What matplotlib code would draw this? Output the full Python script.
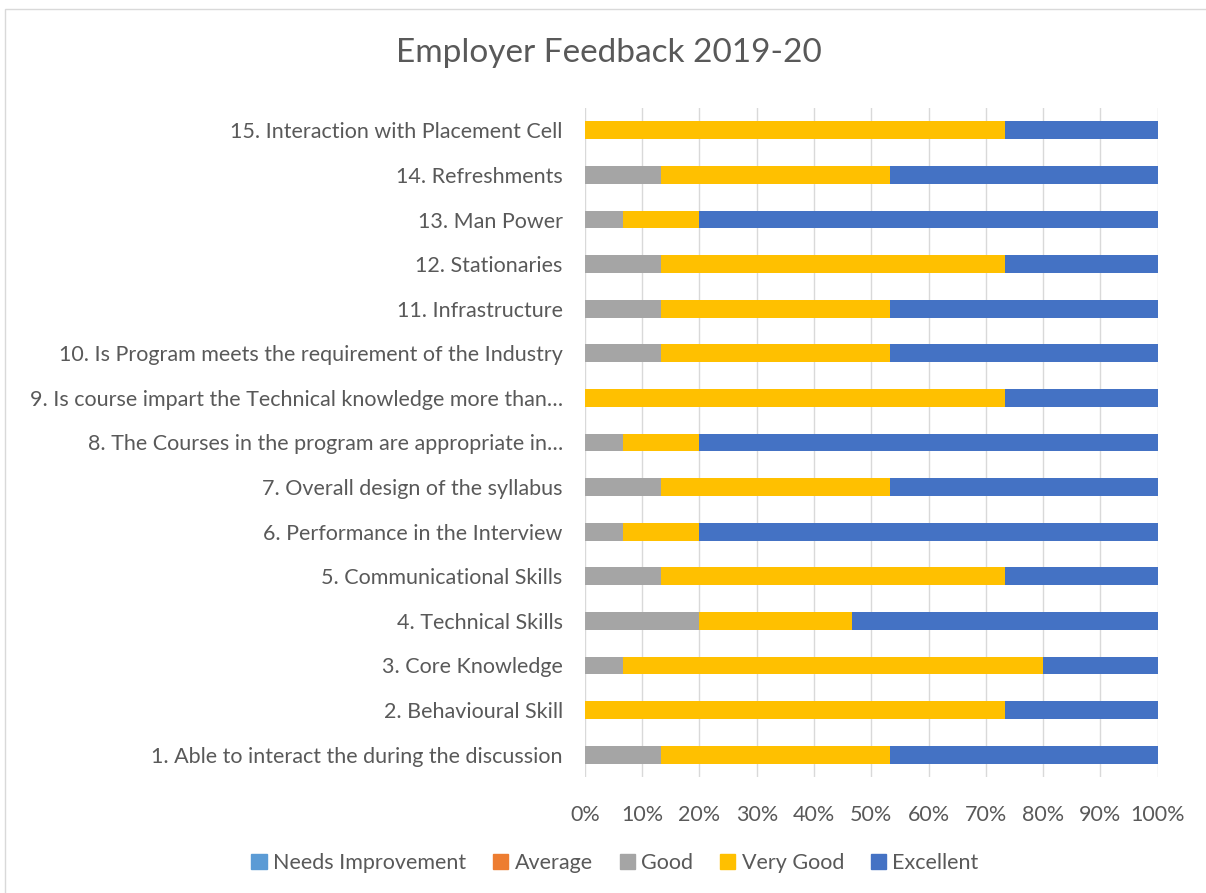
import matplotlib
matplotlib.use("Agg")
import matplotlib.pyplot as plt
from matplotlib.patches import Patch, Rectangle
import numpy as np

plt.rcParams['font.family'] = ['Lato', 'DejaVu Sans']

questions = [
    "1. Able to interact the during the discussion",
    "2. Behavioural Skill",
    "3. Core Knowledge",
    "4. Technical Skills",
    "5. Communicational Skills",
    "6. Performance in the Interview",
    "7. Overall design of the syllabus",
    "8. The Courses in the program are appropriate in\u2026",
    "9. Is course impart the Technical knowledge more than\u2026",
    "10. Is Program meets the requirement of the Industry",
    "11. Infrastructure",
    "12. Stationaries",
    "13. Man Power",
    "14. Refreshments",
    "15. Interaction with Placement Cell",
]

# responses out of 15 employers
needs_improvement = [0, 0, 0, 0, 0, 0, 0, 0, 0, 0, 0, 0, 0, 0, 0]
average =           [0, 0, 0, 0, 0, 0, 0, 0, 0, 0, 0, 0, 0, 0, 0]
good =              [2, 0, 1, 3, 2, 1, 2, 1, 0, 2, 2, 2, 1, 2, 0]
very_good =         [6, 11, 11, 4, 9, 2, 6, 2, 11, 6, 6, 9, 2, 6, 11]
excellent =         [7, 4, 3, 8, 4, 12, 7, 12, 4, 7, 7, 4, 12, 7, 4]

series = ["Needs Improvement", "Average", "Good", "Very Good", "Excellent"]
colors = ["#5B9BD5", "#ED7D31", "#A5A5A5", "#FFC000", "#4472C4"]

data = np.array([needs_improvement, average, good, very_good, excellent], dtype=float)
pct = data / data.sum(axis=0) * 100

fig = plt.figure(figsize=(12.06, 8.93), dpi=100)
ax = fig.add_axes([0.485, 0.130, 0.475, 0.749])

y = np.arange(len(questions))
left = np.zeros(len(questions))
for vals, name, c in zip(pct, series, colors):
    ax.barh(y, vals, left=left, height=0.4, color=c, label=name, zorder=3)
    left += vals

ax.set_xlim(0, 100)
ax.set_ylim(-0.5, len(questions) - 0.5)
ax.set_xticks(np.arange(0, 101, 10))
ax.set_xticklabels([f"{v}%" for v in range(0, 101, 10)])
ax.set_yticks(y)
ax.set_yticklabels(questions)
ax.grid(axis='x', color='#D9D9D9', linewidth=1, zorder=0)
for s in ax.spines.values():
    s.set_visible(False)
ax.tick_params(axis='both', length=0, labelsize=15.5, labelcolor='#595959')
ax.tick_params(axis='x', pad=20)
ax.tick_params(axis='y', pad=16)

fig.text(0.505, 0.941, "Employer Feedback 2019-20", ha='center', va='center',
         fontsize=24, color='#595959')

handles = [Patch(color=c, label=n) for n, c in zip(series, colors)]
fig.legend(handles=handles, loc='center', bbox_to_anchor=(0.51, 0.034), ncol=5,
           frameon=False, fontsize=15.5, labelcolor='#595959', handlelength=0.7,
           handleheight=0.7, handletextpad=0.3, columnspacing=1.25)

fig.patches.append(Rectangle((0.004, -0.01), 1.1, 1.0, transform=fig.transFigure,
                             fill=False, edgecolor='#D9D9D9', linewidth=1))

fig.savefig("out.png", dpi=100)
